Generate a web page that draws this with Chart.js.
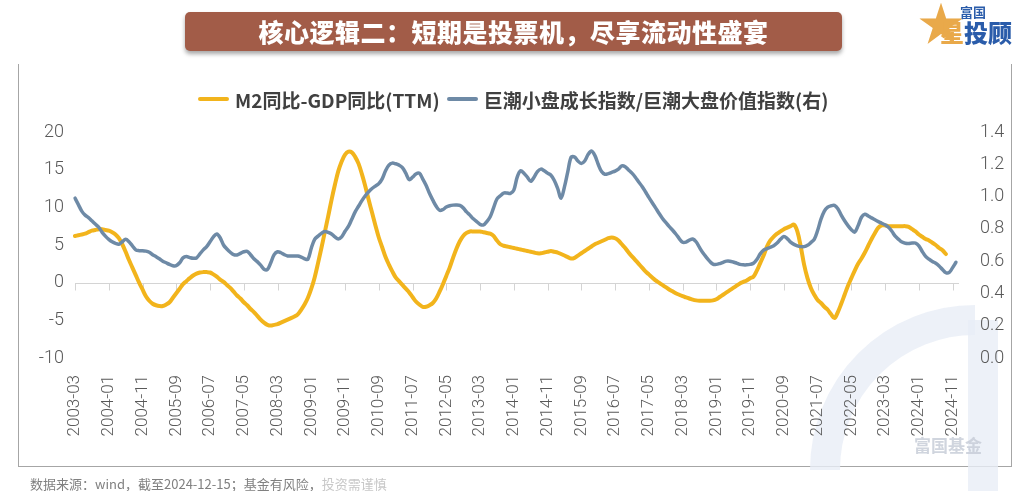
<!DOCTYPE html>
<html>
<head>
<meta charset="utf-8">
<script src="https://cdn.jsdelivr.net/npm/chart.js@4.4.1/dist/chart.umd.min.js"></script>
<style>
  body{margin:0;background:#fff;}
  #page{position:relative;width:1025px;height:491px;overflow:hidden;background:#fff;font-family:"Noto Sans CJK SC","Noto Sans",sans-serif;}
  #frame{position:absolute;left:18px;top:64px;width:994px;height:403px;border:1px solid #a6a6a6;border-top:none;box-sizing:border-box;}
  #title{position:absolute;left:185px;top:12px;width:657px;height:39px;background:#a25c48;border-radius:5px;
         box-shadow:0 3px 4px rgba(0,0,0,.35);color:#fff;font-weight:900;font-size:25px;line-height:39px;text-align:center;letter-spacing:0.5px;}
  #legend{position:absolute;left:198px;top:86px;height:26px;display:flex;align-items:center;font-weight:bold;font-size:19px;color:#404040;white-space:nowrap;}
  .sw{display:inline-block;width:31px;height:4px;border-radius:2px;margin-right:6px;}
  #footer{position:absolute;left:30px;top:474px;font-size:13px;color:#808080;white-space:nowrap;}
  #logo{position:absolute;left:918px;top:3px;width:100px;height:48px;}
  #chartBox{position:absolute;left:0;top:0;width:1025px;height:491px;}
</style>
</head>
<body>
<div id="page">
  <div id="frame"></div>
  <div id="chartBox"><canvas id="mainChart"></canvas></div>
  <div id="title">核心逻辑二：短期是投票机，尽享流动性盛宴</div>
  <div id="logo">
    <span style="position:absolute;left:0;top:-6px;font-size:46px;color:#e9a94a;line-height:1;">★</span>
    <span style="position:absolute;left:42px;top:2px;font-size:13px;font-weight:bold;color:#2a5caa;line-height:1;">富国</span>
    <span style="position:absolute;left:22px;top:17px;font-size:24px;font-weight:900;color:#e9a94a;line-height:1;">星</span>
    <span style="position:absolute;left:46px;top:17px;font-size:24px;font-weight:900;color:#2a5caa;line-height:1;">投顾</span>
  </div>
  <div id="legend">
    <span class="sw" style="background:#f2b41c"></span><span>M2同比-GDP同比(TTM)</span>
    <span class="sw" style="background:#6e8aa6;margin-left:7px"></span><span>巨潮小盘成长指数/巨潮大盘价值指数(右)</span>
  </div>
  <div id="footer">数据来源：wind，截至2024-12-15；基金有风险，<span style="color:#c8c8c8">投资需谨慎</span></div>
</div>
<script>
"use strict";
// 月度类目：2003-03 ~ 2024-12
const startYear=2003,startMonth=3,endYear=2024,endMonth=12;
const months=[];
for(let y=startYear;y<=endYear;y++){
    for(let m=(y===startYear?startMonth:1);m<=(y===endYear?endMonth:12);m++){
        months.push(y+"-"+(m<10?"0"+m:m));
    }
}
// 每10个月显示一个刻度标签
const tickEvery=10;

// M2同比-GDP同比(TTM)，左轴
const m2MinusGdp=[
 6.2,6.3,6.4,6.5,6.7,6.9,7.0,7.1,7.1,7.0,
 6.9,6.7,6.4,5.9,5.1,4.1,3.0,2.0,1.0,0.0,
 -0.9,-1.8,-2.4,-2.8,-3.0,-3.1,-3.1,-2.9,-2.6,-2.0,
 -1.4,-0.8,-0.2,0.2,0.6,0.95,1.2,1.35,1.4,1.4,
 1.35,1.1,0.8,0.4,0.1,-0.3,-0.7,-1.2,-1.7,-2.1,
 -2.6,-3.0,-3.5,-3.9,-4.4,-4.9,-5.3,-5.6,-5.7,-5.6,
 -5.5,-5.3,-5.1,-4.9,-4.7,-4.5,-4.2,-3.6,-2.9,-2.0,
 -0.8,0.7,2.6,4.6,6.7,8.8,11.0,13.0,14.8,16.1,
 17.0,17.4,17.3,16.7,15.8,14.4,12.8,11.0,9.3,7.6,
 6.0,4.7,3.4,2.4,1.5,0.7,0.2,-0.3,-0.8,-1.3,
 -1.9,-2.5,-2.9,-3.2,-3.2,-3.0,-2.7,-2.1,-1.2,-0.2,
 0.9,2.0,3.3,4.5,5.5,6.2,6.6,6.8,6.8,6.8,
 6.8,6.7,6.6,6.5,6.2,5.6,5.1,4.9,4.8,4.7,
 4.6,4.5,4.4,4.3,4.2,4.1,4.0,3.9,3.9,4.0,
 4.1,4.2,4.1,4.0,3.8,3.6,3.4,3.2,3.3,3.6,
 3.9,4.2,4.5,4.8,5.1,5.3,5.5,5.7,5.9,6.0,
 5.9,5.6,5.1,4.6,4.0,3.5,3.0,2.5,2.0,1.5,
 1.1,0.7,0.3,0.0,-0.3,-0.6,-0.9,-1.15,-1.4,-1.6,
 -1.8,-1.95,-2.1,-2.25,-2.35,-2.4,-2.4,-2.4,-2.4,-2.35,
 -2.2,-1.9,-1.6,-1.3,-1.0,-0.7,-0.4,-0.1,0.1,0.3,
 0.6,0.8,1.6,2.6,3.6,4.8,5.6,6.1,6.5,6.8,
 7.1,7.3,7.5,7.7,6.8,4.8,2.4,0.6,-0.7,-1.6,
 -2.3,-2.7,-3.2,-3.6,-4.2,-4.7,-3.9,-2.8,-1.6,-0.4,
 0.6,1.6,2.5,3.2,4.0,4.9,5.8,6.6,7.3,7.6,
 7.6,7.5,7.5,7.5,7.5,7.5,7.5,7.4,7.1,6.8,
 6.4,6.1,5.8,5.6,5.3,5.0,4.6,4.3,3.8,null,
 null,null
];
// 巨潮小盘成长指数/巨潮大盘价值指数，右轴
const growthValueRatio=[
 0.99,0.95,0.91,0.885,0.87,0.85,0.83,0.81,0.78,0.755,
 0.735,0.72,0.71,0.705,0.72,0.735,0.72,0.695,0.67,0.665,
 0.665,0.662,0.655,0.64,0.628,0.615,0.60,0.59,0.58,0.572,
 0.572,0.59,0.62,0.628,0.622,0.618,0.62,0.645,0.67,0.69,
 0.72,0.75,0.768,0.745,0.70,0.675,0.655,0.64,0.638,0.648,
 0.658,0.66,0.64,0.615,0.597,0.575,0.55,0.548,0.59,0.64,
 0.658,0.652,0.64,0.632,0.632,0.632,0.632,0.625,0.615,0.612,
 0.68,0.735,0.755,0.772,0.783,0.778,0.768,0.75,0.737,0.75,
 0.785,0.815,0.86,0.905,0.94,0.975,1.005,1.03,1.05,1.065,
 1.08,1.11,1.16,1.195,1.207,1.203,1.195,1.18,1.145,1.105,
 1.12,1.14,1.145,1.11,1.07,1.02,0.978,0.94,0.915,0.92,
 0.935,0.943,0.947,0.948,0.945,0.93,0.905,0.885,0.862,0.845,
 0.828,0.824,0.845,0.875,0.93,0.985,1.005,1.022,1.022,1.02,
 1.04,1.12,1.16,1.145,1.12,1.095,1.12,1.155,1.17,1.16,
 1.145,1.132,1.10,1.05,0.99,1.06,1.155,1.245,1.245,1.22,
 1.205,1.22,1.26,1.282,1.255,1.2,1.155,1.138,1.142,1.15,
 1.158,1.17,1.19,1.185,1.165,1.145,1.12,1.09,1.063,1.03,
 0.995,0.962,0.93,0.897,0.866,0.84,0.815,0.793,0.768,0.74,
 0.717,0.718,0.73,0.737,0.72,0.685,0.652,0.625,0.6,0.582,
 0.58,0.585,0.593,0.6,0.6,0.595,0.588,0.58,0.577,0.577,
 0.58,0.587,0.61,0.645,0.668,0.677,0.686,0.696,0.712,0.735,
 0.752,0.74,0.718,0.704,0.695,0.69,0.69,0.698,0.715,0.735,
 0.79,0.86,0.91,0.935,0.943,0.945,0.925,0.885,0.85,0.82,
 0.795,0.78,0.82,0.872,0.89,0.88,0.868,0.856,0.845,0.835,
 0.825,0.81,0.785,0.755,0.735,0.718,0.711,0.71,0.712,0.712,
 0.695,0.66,0.63,0.612,0.598,0.587,0.57,0.548,0.528,0.53,
 0.56,0.593
];

const tickFont={family:"Roboto, 'Noto Sans', sans-serif",weight:300};

// 0轴线 + 刻度
const zeroAxis={
    id:"zeroAxis",
    beforeDatasetsDraw(chart){
        const {ctx,chartArea,scales}=chart;
        const y0=Math.round(scales.y.getPixelForValue(0))+0.5;
        ctx.save();
        ctx.strokeStyle="#d4d4d4";
        ctx.lineWidth=1;
        ctx.beginPath();
        ctx.moveTo(chartArea.left,y0);
        ctx.lineTo(chartArea.right+3,y0);
        for(let i=0;i<months.length;i+=tickEvery){
            const px=Math.round(scales.x.getPixelForValue(i))+0.5;
            ctx.moveTo(px,y0);
            ctx.lineTo(px,y0+7);
        }
        ctx.stroke();
        ctx.restore();
    }
};
// 右下角淡色水印
const watermark={
    id:"watermark",
    beforeDraw(chart){
        const ctx=chart.ctx;
        ctx.save();
        ctx.strokeStyle="rgba(232,238,246,0.8)";
        ctx.lineWidth=30;
        ctx.beginPath();
        ctx.arc(975,470,150,Math.PI*1.0,Math.PI*1.5);
        ctx.stroke();
        ctx.fillStyle="rgba(232,238,246,0.8)";
        ctx.fillRect(968,320,30,171);
        ctx.fillStyle="rgba(200,206,216,0.85)";
        ctx.font="bold 17px 'Noto Sans CJK SC'";
        ctx.fillText("富国基金",914,452);
        ctx.restore();
    }
};

const data={
    labels:months,
    datasets:[{
        label:"M2同比-GDP同比(TTM)",
        data:m2MinusGdp,
        yAxisID:"y",
        borderColor:"#f2b41c",
        borderWidth:4,
        order:2
    },{
        label:"巨潮小盘成长指数/巨潮大盘价值指数(右)",
        data:growthValueRatio,
        yAxisID:"y1",
        borderColor:"#6e8aa6",
        borderWidth:3.5,
        order:1
    }]
};
const options={
    responsive:true,
    maintainAspectRatio:false,
    devicePixelRatio:1,
    animation:false,
    layout:{padding:{top:132,left:0,right:0,bottom:0}},
    elements:{
        point:{radius:0},
        line:{tension:0.35,borderCapStyle:"round",borderJoinStyle:"round",fill:false}
    },
    plugins:{legend:{display:false},tooltip:{enabled:false}},
    scales:{
        x:{
            type:"category",
            offset:false,
            grid:{display:false},
            border:{display:false},
            ticks:{
                autoSkip:false,
                minRotation:90,
                maxRotation:90,
                padding:9,
                color:"#595959",
                font:{...tickFont,size:17},
                callback:(v,i)=>i%tickEvery===0?months[i]:null
            },
            afterFit:s=>{s.height=133;}
        },
        y:{
            position:"left",
            min:-10,max:20,
            grid:{display:false},
            border:{display:false},
            ticks:{stepSize:5,padding:3,color:"#595959",font:{...tickFont,size:18}},
            afterFit:s=>{s.width=75;}
        },
        y1:{
            position:"right",
            min:0,max:1.4,
            grid:{display:false},
            border:{display:false},
            ticks:{stepSize:0.2,padding:16,color:"#595959",font:{...tickFont,size:18},
                   callback:v=>Number(v).toFixed(1)},
            afterFit:s=>{s.width=69;}
        }
    }
};
const mainChart=new Chart(document.getElementById("mainChart"),{
    type:"line",
    data,
    options,
    plugins:[watermark,zeroAxis]
});
</script>
</body>
</html>
